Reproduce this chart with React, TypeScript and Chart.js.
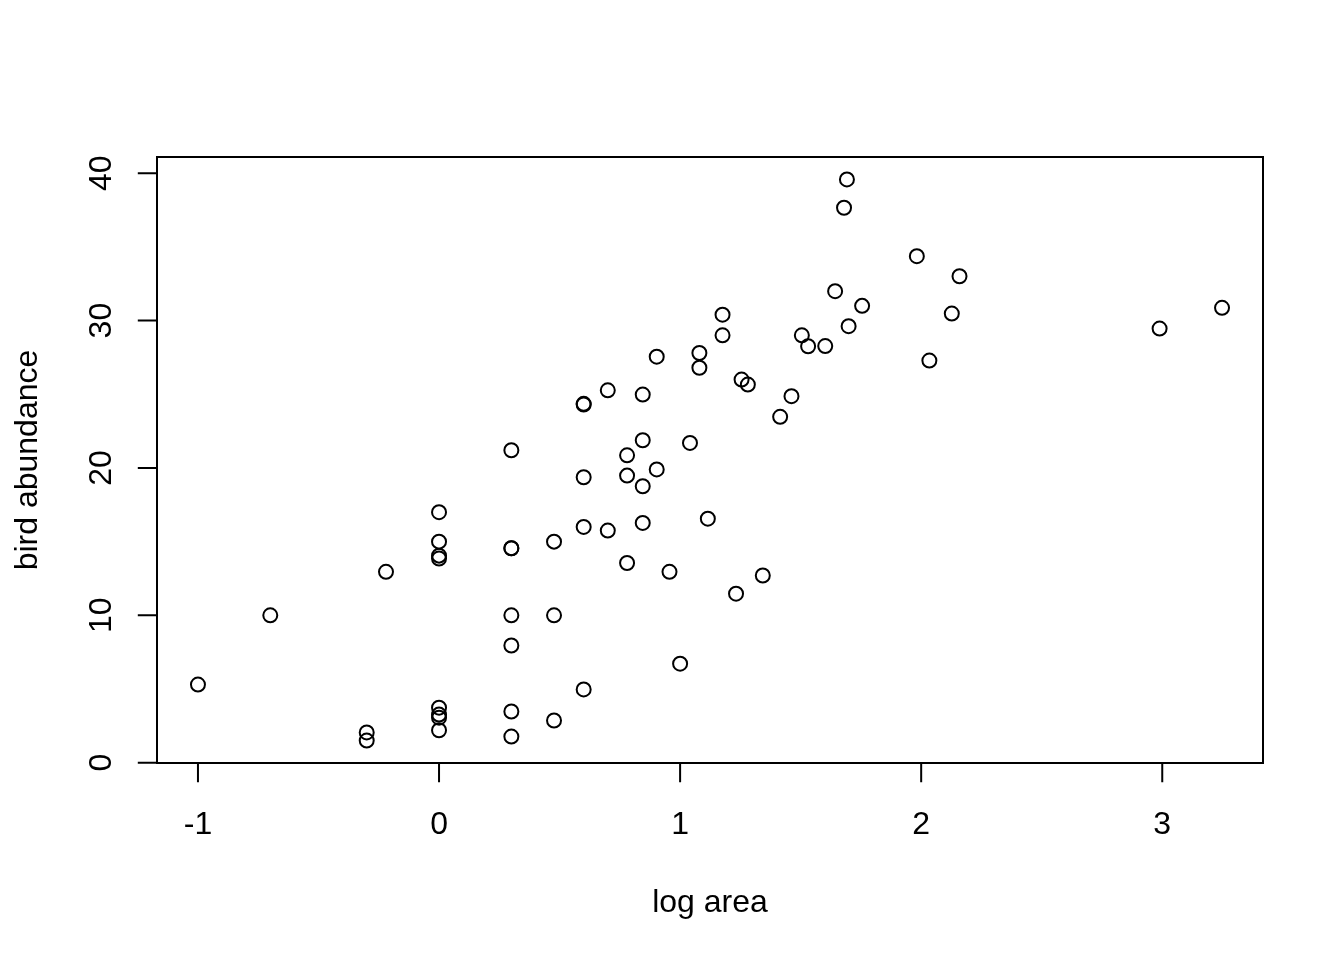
import { useEffect, useRef } from "react";
import { Chart, registerables } from "chart.js";

Chart.register(...registerables);

// ---- data ----
const logArea: number[] = [
  -1.0, -0.7, -0.3, -0.3, -0.22,
  0, 0, 0, 0, 0, 0, 0, 0,
  0.3, 0.3, 0.3, 0.3, 0.3, 0.3, 0.3,
  0.477, 0.477, 0.477,
  0.6, 0.6, 0.6, 0.6, 0.6,
  0.7, 0.7,
  0.78, 0.78, 0.78,
  0.845, 0.845, 0.845, 0.845,
  0.903, 0.903,
  0.956, 1.0, 1.041, 1.08, 1.08, 1.115, 1.176, 1.176,
  1.232, 1.255, 1.281, 1.343, 1.415, 1.462, 1.505, 1.531, 1.602,
  1.643, 1.68, 1.692, 1.699, 1.755,
  1.982, 2.034, 2.127, 2.159,
  2.989, 3.248,
];
const birdAbundance: number[] = [
  5.3, 10.0, 2.05, 1.5, 12.95,
  17.0, 15.0, 14.05, 13.85, 3.73, 3.26, 3.05, 2.2,
  21.2, 14.55, 14.55, 10.0, 7.95, 3.47, 1.77,
  15.0, 10.0, 2.86,
  24.35, 24.3, 19.37, 16.0, 4.97,
  25.27, 15.75,
  20.86, 19.48, 13.55,
  24.98, 21.88, 18.76, 16.27,
  27.55, 19.9,
  12.95, 6.72, 21.7, 27.8, 26.8, 16.56, 30.4, 29.0,
  11.47, 26.0, 25.66, 12.7, 23.47, 24.87, 29.0, 28.26, 28.27,
  32.0, 37.66, 39.58, 29.62, 31.0,
  34.37, 27.29, 30.48, 33.01,
  29.46, 30.87,
];
const xTicks: number[] = [-1, 0, 1, 2, 3];
const yTicks: number[] = [0, 10, 20, 30, 40];
const xTitle = "log area";
const yTitle = "bird abundance";

// R-style axis range: data range extended by 4% on each side
function rRange(v: number[]): [number, number] {
  const lo = Math.min(...v);
  const hi = Math.max(...v);
  const d = (hi - lo) * 0.04;
  return [lo - d, hi + d];
}

const FONT = '32px "Liberation Sans", Arial, Helvetica, sans-serif';

const rAxesPlugin = {
  id: "rAxes",
  afterDraw(chart: any) {
    const { ctx, chartArea: a, scales } = chart;
    const xs = scales.x;
    const ys = scales.y;
    ctx.save();
    ctx.strokeStyle = "#000";
    ctx.fillStyle = "#000";
    ctx.lineWidth = 2;
    ctx.lineCap = "butt";
    // box
    ctx.strokeRect(a.left, a.top, a.right - a.left, a.bottom - a.top);

    const tick = 19.2;
    // x axis
    ctx.beginPath();
    const xa = xs.getPixelForValue(xTicks[0]);
    const xb = xs.getPixelForValue(xTicks[xTicks.length - 1]);
    ctx.moveTo(xa, a.bottom);
    ctx.lineTo(xb, a.bottom);
    xTicks.forEach((t) => {
      const px = xs.getPixelForValue(t);
      ctx.moveTo(px, a.bottom);
      ctx.lineTo(px, a.bottom + tick);
    });
    // y axis
    const ya = ys.getPixelForValue(yTicks[0]);
    const yb = ys.getPixelForValue(yTicks[yTicks.length - 1]);
    ctx.moveTo(a.left, ya);
    ctx.lineTo(a.left, yb);
    yTicks.forEach((t) => {
      const py = ys.getPixelForValue(t);
      ctx.moveTo(a.left, py);
      ctx.lineTo(a.left - tick, py);
    });
    ctx.stroke();

    ctx.font = FONT;
    ctx.textAlign = "center";
    ctx.textBaseline = "alphabetic";
    xTicks.forEach((t) => {
      const px = xs.getPixelForValue(t);
      ctx.fillText(String(t), px, a.bottom + 71);
    });
    ctx.fillText(xTitle, (a.left + a.right) / 2, a.bottom + 149);

    yTicks.forEach((t) => {
      const py = ys.getPixelForValue(t);
      ctx.save();
      ctx.translate(a.left - 46, py);
      ctx.rotate(-Math.PI / 2);
      ctx.fillText(String(t), 0, 0);
      ctx.restore();
    });
    ctx.save();
    ctx.translate(a.left - 120, (a.top + a.bottom) / 2);
    ctx.rotate(-Math.PI / 2);
    ctx.fillText(yTitle, 0, 0);
    ctx.restore();

    ctx.restore();
  },
};

export default function App() {
  const ref = useRef<HTMLCanvasElement | null>(null);

  useEffect(() => {
    const canvas = ref.current;
    if (!canvas) return;
    const [xmin, xmax] = rRange(logArea);
    const [ymin, ymax] = rRange(birdAbundance);
    const points = logArea.map((x, i) => ({ x, y: birdAbundance[i] }));
    const chart = new Chart(canvas, {
      type: "scatter",
      data: {
        datasets: [
          {
            data: points,
            pointStyle: "circle",
            pointRadius: 7,
            pointHoverRadius: 7,
            pointBorderWidth: 2,
            pointBorderColor: "#000",
            pointBackgroundColor: "rgba(0,0,0,0)",
          },
        ],
      },
      options: {
        animation: false,
        responsive: false,
        devicePixelRatio: 1,
        events: [],
        layout: { padding: { left: 157, right: 81, top: 157, bottom: 197 } },
        plugins: {
          legend: { display: false },
          tooltip: { enabled: false },
          title: { display: false },
        },
        scales: {
          x: { type: "linear", display: false, min: xmin, max: xmax },
          y: { type: "linear", display: false, min: ymin, max: ymax },
        },
      },
      plugins: [rAxesPlugin],
    });
    return () => chart.destroy();
  }, []);

  return (
    <div
      style={{
        position: "absolute",
        left: 0,
        top: 0,
        width: 1344,
        height: 960,
        background: "#fff",
      }}
    >
      <canvas ref={ref} width={1344} height={960} style={{ width: 1344, height: 960, display: "block" }} />
    </div>
  );
}
